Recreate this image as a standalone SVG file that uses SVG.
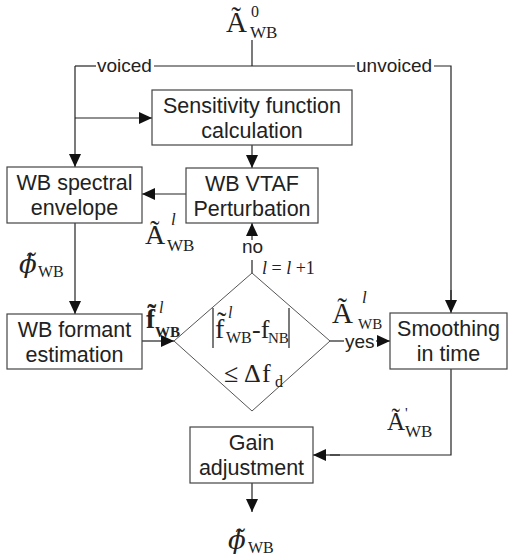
<svg xmlns="http://www.w3.org/2000/svg" width="510" height="559" viewBox="0 0 510 559">
<defs>
<marker id="ah" markerUnits="userSpaceOnUse" markerWidth="14" markerHeight="12" refX="13" refY="6" orient="auto">
<path d="M0,0 L13,6 L0,12 Z" fill="#111"/>
</marker>
<style>
.box{fill:#fff;stroke:#444;stroke-width:1.2}
.ln{fill:none;stroke:#222;stroke-width:1.2}
.ar{fill:none;stroke:#222;stroke-width:1.2;marker-end:url(#ah)}
.bt{font-family:"Liberation Sans",Arial,sans-serif;font-size:21.500px;fill:#222;text-anchor:middle}
.lb{font-family:"Liberation Sans",Arial,sans-serif;font-size:19px;fill:#222}
.m{font-family:"Liberation Serif","Times New Roman","DejaVu Serif",serif;fill:#222}
.ph{font-family:"DejaVu Serif",serif;font-style:italic;fill:#222}
.dm{fill:#fff;stroke:#555;stroke-width:1}
</style>
</defs>
<rect width="510" height="559" fill="#fff"/>
<g id="connectors">
<line class="ln" x1="252" y1="40" x2="252" y2="66"/>
<polyline class="ln" points="96,66 75,66"/>
<line class="ln" x1="154" y1="66" x2="355" y2="66"/>
<polyline class="ln" points="434,66 451,66 451,300"/>
<line class="ar" x1="451" y1="290" x2="451" y2="313"/>
<line class="ar" x1="75" y1="66" x2="75" y2="167"/>
<line class="ar" x1="75" y1="118" x2="152" y2="118"/>
<line class="ar" x1="252" y1="145" x2="252" y2="168"/>
<line class="ar" x1="186" y1="194" x2="142" y2="194"/>
<line class="ar" x1="75" y1="223" x2="75" y2="314"/>
<line class="ar" x1="142" y1="341" x2="174" y2="341"/>
<line class="ln" x1="252" y1="260" x2="252" y2="273"/>
<line class="ar" x1="252" y1="240" x2="252" y2="223"/>
<line class="ln" x1="329" y1="341" x2="344" y2="341"/>
<line class="ar" x1="376" y1="341" x2="390" y2="341"/>
<polyline class="ln" points="451,369 451,455 330,455"/>
<line class="ar" x1="340" y1="455" x2="313" y2="455"/>
<line class="ar" x1="252" y1="483" x2="252" y2="512"/>
<text class="lb" x="97" y="72">voiced</text>
<text class="lb" x="356" y="72">unvoiced</text>
<text class="lb" x="242" y="253" font-size="18">no</text>
<text class="lb" x="345" y="348" font-size="18">yes</text>
</g>
<g id="n_sens"><rect class="box" x="152" y="90" width="200" height="55"/>
<text class="bt" x="252" y="113">Sensitivity function</text>
<text class="bt" x="252" y="138">calculation</text></g>
<g id="n_vtaf"><rect class="box" x="186" y="168" width="132" height="55"/>
<text class="bt" x="252" y="191">WB VTAF</text>
<text class="bt" x="252" y="216">Perturbation</text></g>
<g id="n_spec"><rect class="box" x="7" y="167" width="135" height="56"/>
<text class="bt" x="74.500" y="190">WB spectral</text>
<text class="bt" x="74.500" y="215">envelope</text></g>
<g id="n_form"><rect class="box" x="7" y="314" width="135" height="55"/>
<text class="bt" x="74.500" y="337">WB formant</text>
<text class="bt" x="74.500" y="362">estimation</text></g>
<g id="n_dec"><polygon class="dm" points="252,273 330,341 252,411 174,341"/>
<line class="ln" x1="213" y1="308" x2="213" y2="348" stroke-width="1"/>
<line class="ln" x1="289" y1="308" x2="289" y2="348" stroke-width="1"/>
<text class="m" x="215" y="338" font-size="28">f̃</text>
<text class="m" x="228" y="318" font-size="16" font-style="italic">l</text>
<text class="m" x="226" y="343" font-size="16">WB</text>
<text class="m" x="252" y="338" font-size="26">-f</text>
<text class="m" x="268" y="343" font-size="15">NB</text>
<text class="m" x="224" y="382" font-size="26">≤</text>
<text class="m" x="244" y="382" font-size="26">Δ</text>
<text class="m" x="262" y="382" font-size="26">f</text>
<text class="m" x="275" y="387" font-size="16">d</text>
</g>
<g id="n_smooth"><rect class="box" x="390" y="313" width="117" height="56"/>
<text class="bt" x="448.500" y="336">Smoothing</text>
<text class="bt" x="448.500" y="361">in time</text></g>
<g id="n_gain"><rect class="box" x="190" y="427" width="123" height="56"/>
<text class="bt" x="251.500" y="450">Gain</text>
<text class="bt" x="251.500" y="475">adjustment</text></g>
<g id="labels">
<text class="m" x="226" y="32" font-size="29">Ã</text>
<text class="m" x="251" y="17" font-size="16">0</text>
<text class="m" x="250" y="38" font-size="17">WB</text>
<text class="m" x="145" y="244" font-size="28">Ã</text>
<text class="m" x="171" y="225" font-size="17" font-style="italic">l</text>
<text class="m" x="167" y="251" font-size="17">WB</text>
<text class="ph" x="19" y="273" font-size="26" font-weight="300">ϕ̃</text>
<text class="m" x="38" y="277" font-size="16">WB</text>
<text class="m" x="146" y="328" font-size="27" font-weight="bold">f̃</text>
<text class="m" x="159" y="313" font-size="16" font-style="italic">l</text>
<text class="m" x="155" y="337" font-size="15" font-weight="bold">WB</text>
<text class="m" x="332" y="323" font-size="29">Ã</text>
<text class="m" x="362" y="303" font-size="17" font-style="italic">l</text>
<text class="m" x="358" y="328.500" font-size="15">WB</text>
<text class="m" x="387" y="430" font-size="25">Ã</text>
<text class="m" x="405" y="418" font-size="15">'</text>
<text class="m" x="405" y="437" font-size="17">WB</text>
<text class="ph" x="228" y="549" font-size="26" font-weight="300">ϕ̃</text>
<text class="m" x="248" y="553" font-size="16">WB</text>
<text class="m" x="262" y="274" font-size="18" font-style="italic">l <tspan font-style="normal">=</tspan> l <tspan font-style="normal">+1</tspan></text>
</g>
</svg>
